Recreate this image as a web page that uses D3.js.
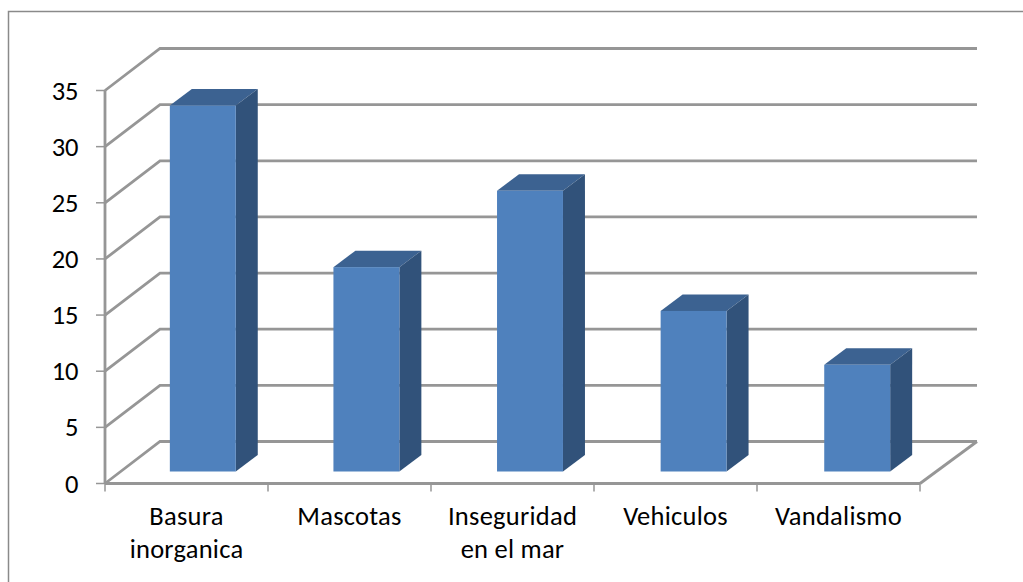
<!DOCTYPE html>
<html><head><meta charset="utf-8">
<script src="https://cdn.jsdelivr.net/npm/d3@7"></script>
<style>html,body{margin:0;padding:0;background:#fff}svg{display:block}text{font-family:Carlito,Calibri,"Open Sans","Noto Sans",sans-serif;font-size:26.5px;fill:#000}</style>
</head><body><svg id="c" width="1023" height="582"></svg>
<script>
const categories=[["Basura","inorganica"],["Mascotas"],["Inseguridad","en el mar"],["Vehiculos"],["Vandalismo"]];
const values=[32.6,18.2,25,14.3,9.5];
const yTicks=[0,5,10,15,20,25,30,35];
const svg=d3.select("#c");
const x=d3.scaleBand().domain(d3.range(categories.length)).range([105,923]).paddingInner(0.597).paddingOuter(0.2985);
const bx=d3.scaleLinear().domain([0,categories.length]).range([105,920]);
const y=d3.scaleLinear().domain([0,35]).range([483.5,90.5]);
const dx=55,dy=-42,bdx=16,bdy=-12,sdx=22,sdy=-16.5;
const grey="#969696";
svg.append("path").attr("d","M8.5,582V11.5H1023").attr("fill","none").attr("stroke","#8a8a8a").attr("stroke-width",1.5);
yTicks.forEach(t=>{
  const p=d3.path();p.moveTo(105,y(t));p.lineTo(105+dx,y(t)+dy);p.lineTo(920+dx+2,y(t)+dy);
  svg.append("path").attr("d",p).attr("fill","none").attr("stroke",grey).attr("stroke-width",2.8);
  svg.append("line").attr("x1",96).attr("x2",105).attr("y1",y(t)).attr("y2",y(t)).attr("stroke",grey).attr("stroke-width",1.5);
  svg.append("text").attr("x",78.5).attr("y",y(t)+9).attr("text-anchor","end").text(t);
});
svg.append("line").attr("x1",105).attr("x2",105).attr("y1",y(35)).attr("y2",y(0)).attr("stroke",grey).attr("stroke-width",2.8);
svg.append("line").attr("x1",105).attr("x2",920).attr("y1",y(0)).attr("y2",y(0)).attr("stroke",grey).attr("stroke-width",2.8);
svg.append("line").attr("x1",920).attr("x2",977).attr("y1",y(0)).attr("y2",y(0)+dy).attr("stroke",grey).attr("stroke-width",2.8);
d3.range(categories.length+1).forEach(i=>svg.append("line").attr("x1",bx(i)).attr("x2",bx(i)).attr("y1",y(0)).attr("y2",y(0)+8).attr("stroke",grey).attr("stroke-width",1.5));
values.forEach((v,i)=>{
  const l=x(i)+bdx,r=l+x.bandwidth(),b=y(0)+bdy,t=y(v)+bdy;
  svg.append("polygon").attr("points",[[l,t],[r,t],[r+sdx,t+sdy],[l+sdx,t+sdy]].join(" ")).attr("fill","#3c6291");
  svg.append("polygon").attr("points",[[r,t],[r+sdx,t+sdy],[r+sdx,b+sdy],[r,b]].join(" ")).attr("fill","#31527a");
  svg.append("rect").attr("x",l).attr("y",t).attr("width",x.bandwidth()).attr("height",b-t).attr("fill","#4f81bd");
});
categories.forEach((c,i)=>{
  c.forEach((s,j)=>svg.append("text").attr("x",bx(i+0.5)).attr("y",525+j*32.5).attr("text-anchor","middle").attr("letter-spacing",0.25).text(s));
});
</script></body></html>
